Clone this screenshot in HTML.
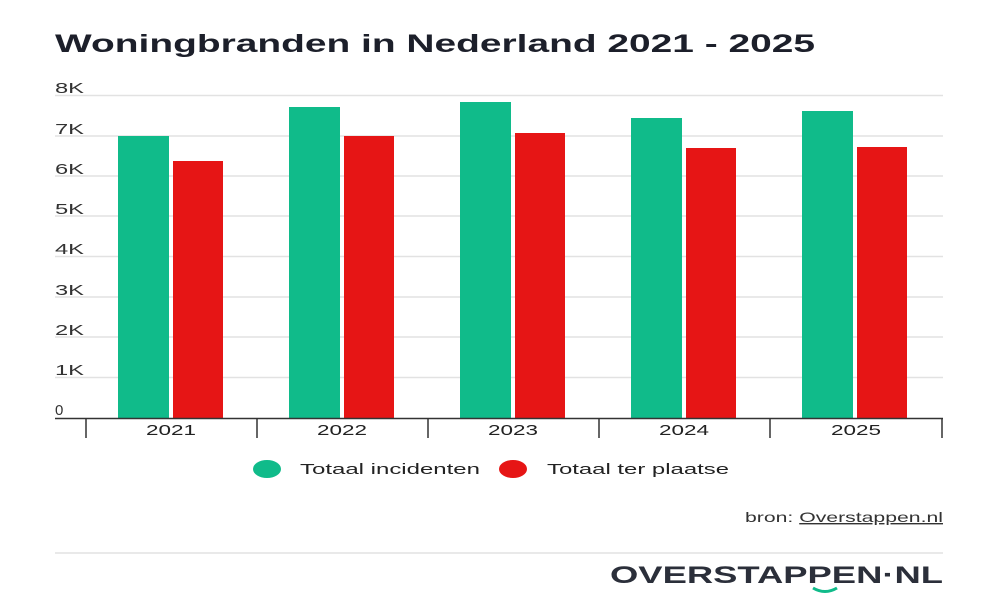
<!DOCTYPE html>
<html><head><meta charset="utf-8"><style>
body{margin:0;background:#fff;width:1000px;height:600px;overflow:hidden;font-family:"Liberation Sans",sans-serif}
</style></head><body>
<svg width="1000" height="600" xmlns="http://www.w3.org/2000/svg" font-family="Liberation Sans, sans-serif">
<text x="55" y="52" font-size="25" font-weight="bold" fill="#1c1f2a" textLength="760" lengthAdjust="spacingAndGlyphs">Woningbranden in Nederland 2021 - 2025</text>
<g stroke="#e2e2e2" stroke-width="1.5">
<line x1="55" x2="943" y1="95.5" y2="95.5"/><line x1="55" x2="943" y1="136" y2="136"/>
<line x1="55" x2="943" y1="176" y2="176"/><line x1="55" x2="943" y1="216" y2="216"/>
<line x1="55" x2="943" y1="256.5" y2="256.5"/><line x1="55" x2="943" y1="297" y2="297"/>
<line x1="55" x2="943" y1="337" y2="337"/><line x1="55" x2="943" y1="377.5" y2="377.5"/>
</g>
<g font-size="15" fill="#333">
<text x="55" y="93" textLength="29" lengthAdjust="spacingAndGlyphs">8K</text><text x="55" y="134" textLength="29" lengthAdjust="spacingAndGlyphs">7K</text><text x="55" y="174" textLength="29" lengthAdjust="spacingAndGlyphs">6K</text>
<text x="55" y="214" textLength="29" lengthAdjust="spacingAndGlyphs">5K</text><text x="55" y="254" textLength="29" lengthAdjust="spacingAndGlyphs">4K</text><text x="55" y="295" textLength="29" lengthAdjust="spacingAndGlyphs">3K</text>
<text x="55" y="335" textLength="29" lengthAdjust="spacingAndGlyphs">2K</text><text x="55" y="375" textLength="29" lengthAdjust="spacingAndGlyphs">1K</text><text x="55" y="415">0</text>
</g>
<g fill="#10bb8a">
<rect x="118" y="136" width="51" height="282"/><rect x="289" y="107" width="51" height="311"/>
<rect x="460" y="102" width="51" height="316"/><rect x="631" y="118" width="51" height="300"/>
<rect x="802" y="111" width="51" height="307"/>
</g>
<g fill="#e61515">
<rect x="173" y="161" width="50" height="257"/><rect x="344" y="136" width="50" height="282"/>
<rect x="515" y="133" width="50" height="285"/><rect x="686" y="148" width="50" height="270"/>
<rect x="857" y="147" width="50" height="271"/>
</g>
<g stroke="#333" stroke-width="1.5">
<line x1="55" x2="943" y1="418.5" y2="418.5"/>
<line x1="86" x2="86" y1="418" y2="438"/><line x1="257" x2="257" y1="418" y2="438"/>
<line x1="428" x2="428" y1="418" y2="438"/><line x1="599" x2="599" y1="418" y2="438"/>
<line x1="770" x2="770" y1="418" y2="438"/><line x1="942" x2="942" y1="418" y2="438"/>
</g>
<g font-size="15" fill="#222">
<text x="146" y="435" textLength="50" lengthAdjust="spacingAndGlyphs">2021</text><text x="317" y="435" textLength="50" lengthAdjust="spacingAndGlyphs">2022</text><text x="488" y="435" textLength="50" lengthAdjust="spacingAndGlyphs">2023</text>
<text x="659" y="435" textLength="50" lengthAdjust="spacingAndGlyphs">2024</text><text x="831" y="435" textLength="50" lengthAdjust="spacingAndGlyphs">2025</text>
</g>
<ellipse cx="267" cy="469" rx="14" ry="9" fill="#10bb8a"/>
<text x="300" y="474" font-size="15" fill="#222" textLength="180" lengthAdjust="spacingAndGlyphs">Totaal incidenten</text>
<ellipse cx="513" cy="469" rx="14" ry="9" fill="#e61515"/>
<text x="547" y="474" font-size="15" fill="#222" textLength="182" lengthAdjust="spacingAndGlyphs">Totaal ter plaatse</text>
<text x="745" y="522" font-size="14" fill="#333" textLength="198" lengthAdjust="spacingAndGlyphs">bron: <tspan text-decoration="underline">Overstappen.nl</tspan></text>
<line x1="55" x2="943" y1="553" y2="553" stroke="#e2e2e2" stroke-width="1.5"/>
<text x="610" y="583" font-size="24" font-weight="bold" fill="#2b2f3a" textLength="333" lengthAdjust="spacingAndGlyphs">OVERSTAPPEN·NL</text>
<path d="M813 588 q12 7 24 0" stroke="#10bb8a" stroke-width="3" fill="none"/>
</svg>
</body></html>
